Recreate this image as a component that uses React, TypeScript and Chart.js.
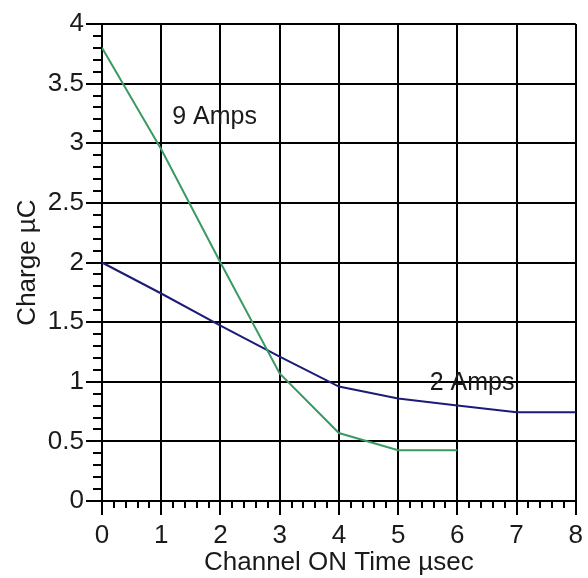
import React, { useEffect, useRef } from "react";
import { Chart, registerables } from "chart.js";

Chart.register(...registerables);

const xTicks = [0, 1, 2, 3, 4, 5, 6, 7, 8];
const yTickLabels = ["0", "0.5", "1", "1.5", "2", "2.5", "3", "3.5", "4"];
const amps9X = [0, 1, 2, 3, 4, 5, 6];
const amps9Y = [3.8, 2.95, 2.0, 1.07, 0.57, 0.425, 0.425];
const amps2X = [0, 1, 2, 3, 4, 5, 6, 7, 8];
const amps2Y = [2.0, 1.74, 1.47, 1.21, 0.96, 0.86, 0.8, 0.745, 0.745];
const annotations = [
  { text: "9 Amps", x: 1.9, y: 3.22 },
  { text: "2 Amps", x: 6.25, y: 0.99 },
];

const FONT = "'Liberation Sans', Arial, Helvetica, sans-serif";
const SIZE = 26;

const minorTicks = {
  id: "minorTicks",
  afterDraw(chart: any) {
    const { ctx, scales } = chart;
    const xs = scales.x;
    const ys = scales.y;
    ctx.save();
    ctx.strokeStyle = "#000";
    ctx.lineWidth = 2;
    ctx.beginPath();
    for (let i = 0; i <= 40; i++) {
      if (i % 5 === 0) continue;
      const v = i * 0.1;
      const py = Math.round(ys.getPixelForValue(v));
      ctx.moveTo(xs.left - 9, py);
      ctx.lineTo(xs.left, py);
    }
    for (let i = 0; i <= 40; i++) {
      if (i % 5 === 0) continue;
      const v = i * 0.2;
      const px = Math.round(xs.getPixelForValue(v));
      ctx.moveTo(px, ys.bottom);
      ctx.lineTo(px, ys.bottom + 7);
    }
    ctx.stroke();
    ctx.fillStyle = "#1a1a1a";
    ctx.font = `25px ${FONT}`;
    ctx.textAlign = "center";
    ctx.textBaseline = "middle";
    for (const a of annotations) {
      ctx.fillText(a.text, xs.getPixelForValue(a.x), ys.getPixelForValue(a.y));
    }
    ctx.restore();
  },
};

export default function App() {
  const ref = useRef<HTMLCanvasElement>(null);
  useEffect(() => {
    document.body.style.margin = "0";
    const chart = new Chart(ref.current!, {
      type: "scatter",
      data: {
        datasets: [
          {
            label: "9 Amps",
            data: amps9X.map((x, i) => ({ x, y: amps9Y[i] })),
            showLine: true,
            borderColor: "#3a9a62",
            borderWidth: 2,
            pointRadius: 0,
            tension: 0,
          },
          {
            label: "2 Amps",
            data: amps2X.map((x, i) => ({ x, y: amps2Y[i] })),
            showLine: true,
            borderColor: "#1c1c78",
            borderWidth: 2,
            pointRadius: 0,
            tension: 0,
          },
        ],
      },
      options: {
        responsive: false,
        animation: false,
        layout: { padding: { top: 24, right: 10, left: 0, bottom: 0 } },
        plugins: { legend: { display: false }, tooltip: { enabled: false } },
        scales: {
          x: {
            type: "linear",
            min: 0,
            max: 8,
            afterFit: (s: any) => {
              s.height = 77;
            },
            afterBuildTicks: (s: any) => {
              s.ticks = xTicks.map((v) => ({ value: v }));
            },
            ticks: {
              stepSize: 1,
              color: "#1a1a1a",
              padding: 5,
              font: { family: FONT, size: SIZE },
            },
            grid: { color: "#000", lineWidth: 2, tickLength: 14, tickColor: "#000" },
            border: { color: "#000", width: 2 },
            title: {
              display: true,
              text: "Channel ON Time µsec",
              color: "#1a1a1a",
              font: { family: FONT, size: SIZE },
              padding: { top: 0, bottom: 0 },
            },
          },
          y: {
            type: "linear",
            min: 0,
            max: 4,
            afterFit: (s: any) => {
              s.width = 102;
            },
            ticks: {
              stepSize: 0.5,
              color: "#1a1a1a",
              padding: 2,
              font: { family: FONT, size: SIZE },
              callback: (v: any) => {
                const idx = Math.round(Number(v) / 0.5);
                return yTickLabels[idx] ?? String(v);
              },
            },
            grid: { color: "#000", lineWidth: 2, tickLength: 16, tickColor: "#000" },
            border: { color: "#000", width: 2 },
            title: {
              display: true,
              text: "Charge µC",
              color: "#1a1a1a",
              font: { family: FONT, size: SIZE },
              padding: { top: 12, bottom: 0 },
            },
          },
        },
      },
      plugins: [minorTicks],
    });
    return () => chart.destroy();
  }, []);
  return <canvas ref={ref} width={588} height={578} style={{ display: "block" }} />;
}
